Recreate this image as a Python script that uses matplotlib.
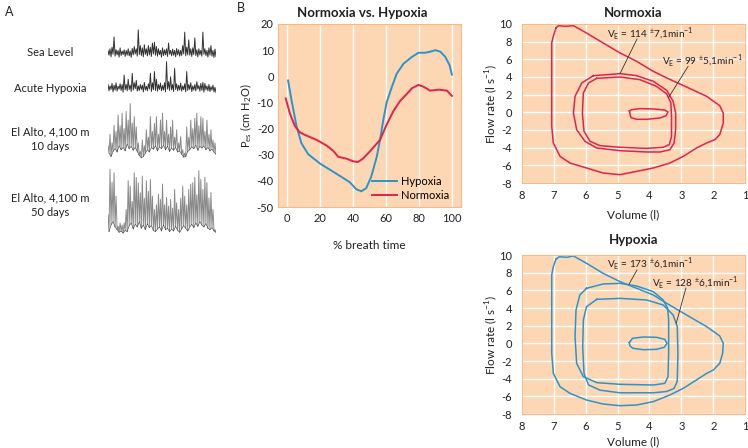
import numpy as np
import matplotlib
matplotlib.use("Agg")
import matplotlib.pyplot as plt

plt.rcParams['font.family'] = ['Lato', 'DejaVu Sans']
plt.rcParams['mathtext.fontset'] = 'custom'
plt.rcParams['mathtext.rm'] = 'Lato'
plt.rcParams['axes.unicode_minus'] = False

# ---- panel A: ventilation traces (0-10 arbitrary units, peaks / troughs) ----
sea_peaks = [3.0, 3.5, 4.0, 7.2, 3.2, 3.0, 3.8, 2.8, 3.2, 3.0, 3.5, 2.8, 3.6, 4.2, 3.5, 9.4, 4.5, 3.8,
             4.8, 3.5, 4.5, 4.0, 5.3, 5.5, 4.2, 3.5, 3.0, 3.8, 3.2, 3.5, 5.3, 3.0, 3.4, 3.0, 3.6, 3.2,
             3.0, 4.5, 8.7, 4.0, 6.3, 3.5, 3.8, 6.9, 3.2, 3.5, 3.0, 8.7, 3.5, 3.0, 3.8, 4.5, 3.0, 3.4]
sea_troughs = [1.5, 1.0, 1.8, 1.2, 1.6, 0.9, 1.4, 1.7, 1.1, 1.5, 1.3, 0.8, 1.6, 1.9, 1.2, 1.7, 1.4, 1.0,
               1.8, 1.3, 1.6, 1.1, 1.9, 1.5, 1.2, 1.7, 0.9, 1.4, 1.6, 1.1, 1.8, 1.3, 1.5, 1.0, 1.6, 1.2,
               1.4, 1.9, 1.3, 1.6, 1.5, 1.1, 1.7, 1.4, 1.0, 1.6, 1.2, 1.8, 1.4, 0.9, 1.5, 1.2, 0.8, 1.1]
acute_peaks = [3.0, 2.6, 3.3, 2.8, 3.5, 2.5, 3.2, 3.0, 5.7, 3.0, 4.5, 2.8, 6.2, 3.5, 4.2, 2.6, 3.0, 2.8,
               3.6, 2.5, 3.2, 6.2, 3.5, 6.7, 4.5, 3.0, 3.4, 2.7, 3.5, 9.5, 3.8, 5.2, 3.0, 7.6, 3.2, 2.8,
               3.4, 2.6, 3.2, 6.7, 3.0, 3.5, 2.6, 3.0, 3.8, 2.7, 3.3, 3.6, 3.3, 2.6, 3.0, 2.4, 2.8, 2.2]
acute_troughs = [1.2, 1.6, 0.9, 1.4, 1.1, 1.7, 1.3, 0.8, 1.5, 1.2, 1.6, 1.0, 1.4, 1.8, 1.1, 1.3, 1.6, 0.9,
                 1.4, 1.2, 1.7, 1.0, 1.5, 1.3, 1.1, 1.6, 1.2, 1.4, 0.9, 1.7, 1.3, 1.5, 1.0, 1.6, 1.2, 1.4,
                 1.1, 1.5, 0.9, 1.3, 1.6, 1.0, 1.4, 1.2, 1.7, 1.1, 1.3, 0.8, 1.5, 1.2, 1.0, 1.4, 0.9, 0.7]
d10_peaks = [2.5, 4.5, 3.0, 6.1, 5.0, 7.9, 6.0, 8.2, 5.5, 8.5, 7.0, 9.9, 6.5, 7.6, 5.8, 3.0, 1.5, 3.5,
             2.5, 5.3, 4.0, 7.6, 5.0, 6.4, 7.6, 4.5, 7.0, 8.2, 5.0, 7.0, 4.5, 5.8, 7.0, 4.0, 5.3, 3.0,
             4.1, 1.8, 1.2, 5.8, 4.0, 7.0, 5.5, 7.3, 8.2, 6.0, 7.6, 7.3, 5.0, 7.0, 4.5, 5.3, 3.5, 3.0]
d10_troughs = [1.2, 0.6, 1.5, 2.0, 1.4, 2.5, 1.8, 2.2, 1.6, 2.8, 2.0, 2.4, 1.7, 2.2, 1.5, 0.8, 0.4, 0.6,
               1.2, 1.8, 1.4, 2.2, 1.9, 2.5, 1.6, 2.3, 2.0, 2.6, 1.8, 2.4, 1.5, 2.1, 1.7, 2.2, 1.4, 1.6,
               1.0, 0.5, 0.6, 1.5, 1.8, 2.3, 2.0, 2.6, 1.7, 2.4, 2.1, 2.5, 1.8, 2.2, 1.6, 1.9, 1.4, 1.0]
d50_peaks = [3.0, 9.8, 7.9, 9.3, 5.8, 1.3, 1.8, 1.5, 1.8, 3.8, 8.1, 7.3, 5.0, 9.3, 8.6, 7.8, 6.3, 8.8,
             5.5, 8.1, 6.5, 8.3, 5.8, 3.8, 4.5, 6.1, 5.3, 7.6, 4.5, 5.6, 4.3, 5.3, 4.0, 6.8, 4.8, 3.8,
             5.5, 7.3, 5.8, 4.5, 6.8, 7.6, 7.8, 8.6, 6.0, 9.6, 8.3, 6.8, 8.6, 7.8, 5.5, 6.3, 3.8, 0.8]
d50_troughs = [0.5, 1.5, 2.0, 1.2, 0.8, 0.4, 0.6, 0.3, 0.7, 0.5, 1.4, 1.8, 0.9, 1.6, 1.2, 2.0, 1.0, 1.5,
               0.8, 1.7, 1.1, 1.4, 0.7, 0.5, 0.9, 1.2, 0.6, 1.5, 0.8, 1.0, 0.5, 0.9, 0.6, 1.3, 0.7, 0.4,
               0.9, 1.4, 1.0, 0.6, 1.2, 1.6, 1.1, 1.8, 1.3, 2.0, 1.5, 1.2, 1.7, 1.0, 0.8, 1.1, 0.6, 0.4]

# ---- panel B middle: esophageal pressure over breath ----
hyp_t = [0.6, 2.6, 5.7, 8.7, 12.8, 20, 30, 38, 42, 45, 48, 51, 54.4, 56.4, 58.4, 60.4, 63.5, 66.5,
         70.6, 75.7, 79.7, 83.8, 86.8, 89.9, 93, 96, 98.6, 100]
hyp_p = [-1.6, -8.8, -19, -25.6, -29.8, -33.4, -37.3, -40.5, -43.2, -44.0, -42.8, -38.5, -30.8,
         -24.3, -16.6, -10, -4.2, 1, 4.8, 7.4, 9, 9, 9.4, 10, 9.4, 7.4, 4.2, 0.6]
norm_t = [-0.8, 1.6, 4.7, 7.7, 10.8, 17.8, 24, 28, 31, 36, 40, 43, 46, 50, 56.4, 60.4, 64.5, 68.6,
          72.6, 75.7, 79.7, 82.8, 86.8, 92, 97, 100]
norm_p = [-8.5, -14, -19, -21.4, -22.4, -24.3, -26.5, -28.5, -30.8, -31.5, -32.5, -32.8, -31.5,
          -28.9, -24.3, -18.5, -13.3, -9.4, -6.8, -4.6, -3.3, -4, -5.5, -5.1, -5.5, -7.5]

# ---- flow-volume loops (volume l, flow l/s) ----
n_outer_v = [6.93, 6.85, 6.64, 6.38, 5.97, 5.45, 4.92, 4.40, 3.88, 3.46, 2.84, 2.21, 1.80, 1.69, 1.69,
             1.80, 1.95, 2.21, 2.53, 2.94, 3.36, 3.88, 4.40, 4.92, 5.45, 5.97, 6.49, 6.80, 7.01, 7.06,
             7.06, 7.06, 7.06, 7.01]
n_outer_f = [9.55, 9.81, 9.74, 9.81, 8.98, 7.85, 6.72, 5.77, 4.64, 3.89, 2.87, 1.81, 0.75, -0.08, -1.21,
             -2.53, -3.09, -3.47, -4.04, -4.98, -5.74, -6.30, -6.68, -7.06, -6.87, -6.30, -5.74, -4.98,
             -3.47, -1.58, 1.43, 5.21, 7.85, 8.60]
n_114_v = [5.76, 4.92, 4.40, 3.88, 3.46, 3.26, 3.18, 3.18, 3.23, 3.36, 3.67, 4.09, 4.92, 5.65, 6.02,
           6.28, 6.38, 6.33, 6.12]
n_114_f = [4.15, 4.38, 4.15, 3.51, 2.49, 1.25, -0.08, -1.96, -3.47, -4.23, -4.49, -4.49, -4.34, -4.04,
           -3.28, -1.96, -0.08, 1.81, 3.32]
n_99_v = [5.65, 4.92, 4.30, 3.78, 3.46, 3.33, 3.31, 3.31, 3.38, 3.57, 4.09, 4.92, 5.55, 5.86, 6.05,
          6.10, 6.07, 5.91]
n_99_f = [3.85, 4.0, 3.70, 2.94, 2.08, 1.06, -0.45, -2.72, -3.66, -3.96, -4.08, -3.96, -3.77, -3.28,
          -2.15, -0.08, 2.19, 3.32]
n_rest_v = [4.63, 4.56, 4.30, 3.88, 3.52, 3.42, 3.48, 3.67, 4.09, 4.40, 4.58]
n_rest_f = [0.15, 0.30, 0.42, 0.38, 0.26, 0.04, -0.38, -0.64, -0.79, -0.79, -0.60]

h_outer_v = [6.93, 6.82, 6.59, 6.38, 5.97, 5.45, 4.92, 4.40, 3.88, 3.46, 2.84, 2.21, 1.80, 1.69, 1.71,
             1.80, 2.00, 2.21, 2.53, 2.94, 3.36, 3.88, 4.40, 4.92, 5.45, 5.97, 6.49, 6.80, 7.01, 7.06,
             7.06, 7.06, 7.06, 7.01]
h_outer_f = [9.51, 9.81, 9.74, 9.89, 9.06, 7.92, 6.98, 6.23, 5.47, 4.53, 3.21, 1.89, 0.83, 0.0, -1.13,
             -2.26, -3.02, -3.40, -4.15, -5.09, -5.85, -6.60, -6.98, -7.06, -6.87, -6.42, -5.66, -4.91,
             -3.40, -1.13, 2.64, 6.42, 7.74, 8.68]
h_173_v = [5.97, 5.45, 4.92, 4.40, 3.88, 3.57, 3.43, 3.40, 3.40, 3.42, 3.52, 3.88, 4.92, 5.65, 6.07,
           6.28, 6.33, 6.30, 6.18]
h_173_f = [6.23, 6.72, 6.79, 6.49, 5.85, 4.91, 3.96, 2.64, -1.13, -3.77, -4.53, -4.72, -4.64, -4.45,
           -3.77, -2.26, 0.75, 3.77, 5.47]
h_128_v = [5.65, 4.92, 4.09, 3.57, 3.26, 3.13, 3.11, 3.13, 3.23, 3.46, 3.88, 4.92, 5.55, 5.91, 6.05,
           6.09, 6.07, 5.97]
h_128_f = [4.98, 5.09, 4.91, 4.34, 3.21, 1.89, -1.13, -4.30, -5.10, -5.45, -5.60, -5.60, -5.30, -4.70,
           -3.40, -0.38, 2.64, 4.15]
h_rest_v = [4.63, 4.53, 4.19, 3.78, 3.52, 3.45, 3.54, 3.78, 4.19, 4.51, 4.61]
h_rest_f = [0.08, 0.57, 0.72, 0.68, 0.45, 0.0, -0.45, -0.68, -0.72, -0.57, -0.30]

peach = '#fdd6b3'
edge = '#f6b98a'
blue = '#2a95cb'
red = '#e1224c'
txt = '#231f20'

fig = plt.figure(figsize=(7.48, 4.48), dpi=100)
W, H = 748.0, 448.0


def px_axes(left, top, right, bottom):
    return fig.add_axes([left / W, 1 - bottom / H, (right - left) / W, (bottom - top) / H])


# ---- panel A ----
fig.text(5 / W, 1 - 12 / H, 'A', fontsize=9, color=txt, va='center')
traces = [
    ('Sea Level', sea_peaks, sea_troughs, 28, 60, 53, '#333333'),
    ('Acute Hypoxia', acute_peaks, acute_troughs, 60, 95, 88, '#333333'),
    ('El Alto, 4,100 m\n10 days', d10_peaks, d10_troughs, 103, 160, 139, '#8a8a8a'),
    ('El Alto, 4,100 m\n50 days', d50_peaks, d50_troughs, 168, 235, 205, '#8a8a8a'),
]
for label, pk, tr, top, bot, ylab, col in traces:
    a = px_axes(108, top, 216, bot)
    y = np.empty(2 * len(pk))
    y[0::2] = pk
    y[1::2] = tr
    a.plot(np.arange(len(y)), y, color=col, lw=0.7)
    if col != '#333333':
        a.plot(np.arange(1, len(y), 2), tr, color='#333333', lw=0.4)
    a.set_xlim(0, len(y) - 1)
    a.set_ylim(0, 10)
    a.axis('off')
    fig.text(50 / W, 1 - ylab / H, label, fontsize=8, color=txt, ha='center', va='center',
             linespacing=1.35)

# ---- panel B: pressure ----
fig.text(237 / W, 1 - 8 / H, 'B', fontsize=9, color=txt, va='center')
ax = px_axes(278, 24, 461, 207)
ax.set_facecolor(peach)
ax.plot(hyp_t, hyp_p, color=blue, lw=1.4, label='Hypoxia')
ax.plot(norm_t, norm_p, color=red, lw=1.4, label='Normoxia')
ax.set_xlim(-5.5, 105.5)
ax.set_ylim(-50, 20)
ax.set_xticks([0, 20, 40, 60, 80, 100])
ax.set_yticks([20, 10, 0, -10, -20, -30, -40, -50])
ax.grid(axis='x', color='white', lw=1.0)
ax.set_axisbelow(True)
ax.tick_params(length=0, labelsize=8, colors=txt, pad=4)
ax.tick_params(axis='y', pad=3)
for s in ax.spines.values():
    s.set_color(edge)
ax.set_xlabel('% breath time', fontsize=8.5, color=txt, va='center')
ax.xaxis.set_label_coords(0.5, -0.208)
ax.set_ylabel(r'P$_{\mathregular{es}}$ (cm H$_{\mathregular{2}}$O)', fontsize=8, color=txt,
              va='center')
ax.yaxis.set_label_coords(-0.172, 0.5)
ax.text(0.46, 1.06, 'Normoxia vs. Hypoxia', transform=ax.transAxes, fontsize=9.5,
        fontweight='bold', ha='center', va='center', color=txt)
ax.legend(loc='lower right', frameon=False, fontsize=8, handlelength=2.2, handletextpad=0.4,
          labelspacing=0.3, borderaxespad=0.15, bbox_to_anchor=(0.97, 0.0))


def loop_axes(top, bottom, title, title_y, xlab_y, loops, color, notes):
    a = px_axes(521.7, top, 745.3, bottom)
    a.set_facecolor(peach)
    for v, f in loops:
        a.plot(list(v) + [v[0]], list(f) + [f[0]], color=color, lw=1.1, solid_joinstyle='round')
    a.set_xlim(8, 1)
    a.set_ylim(-8, 10)
    a.set_xticks([8, 7, 6, 5, 4, 3, 2, 1])
    a.set_yticks([10, 8, 6, 4, 2, 0, -2, -4, -6, -8])
    a.grid(color='white', lw=1.0)
    a.set_axisbelow(True)
    a.tick_params(length=0, labelsize=8, colors=txt)
    a.tick_params(axis='y', pad=7)
    a.tick_params(axis='x', pad=5)
    for s in a.spines.values():
        s.set_color(edge)
    a.set_xlabel('Volume (l)', fontsize=8.5, color=txt, va='center')
    a.xaxis.set_label_coords(0.5, xlab_y)
    a.set_ylabel(r'Flow rate (l s$^{\mathregular{-1}}$)', fontsize=8.5, color=txt, va='center')
    a.yaxis.set_label_coords(-0.133, 0.5)
    a.text(0.5, title_y, title, transform=a.transAxes, fontsize=9.5, fontweight='bold',
           ha='center', va='center', color=txt)
    for label, tx, ty, x0, y0, x1, y1 in notes:
        a.text(tx, ty, label, fontsize=7.2, ha='center', va='center', color=txt)
        a.plot([x0, x1], [y0, y1], color='#333333', lw=0.6)
    return a


def ve(val, sd):
    return r'V$_{\mathregular{E}}$ = ' + val + r' $^{\mathregular{\pm}}$' + sd + r',1min$^{\mathregular{-1}}$'


loop_axes(24, 183, 'Normoxia', 1.07, -0.2,
          [(n_outer_v, n_outer_f), (n_114_v, n_114_f), (n_99_v, n_99_f), (n_rest_v, n_rest_f)], red,
          [(ve('114', '7'), 3.98, 8.95, 4.39, 8.3, 4.92, 4.4),
           (ve('99', '5'), 2.36, 5.9, 2.79, 5.2, 3.4, 1.7)])
loop_axes(255, 414, 'Hypoxia', 1.095, -0.176,
          [(h_outer_v, h_outer_f), (h_173_v, h_173_f), (h_128_v, h_128_f), (h_rest_v, h_rest_f)], blue,
          [(ve('173', '6'), 3.98, 9.05, 4.39, 8.3, 4.64, 6.7),
           (ve('128', '6'), 2.57, 6.9, 2.86, 6.25, 3.16, 2.3)])

fig.savefig('out.png', dpi=100)
